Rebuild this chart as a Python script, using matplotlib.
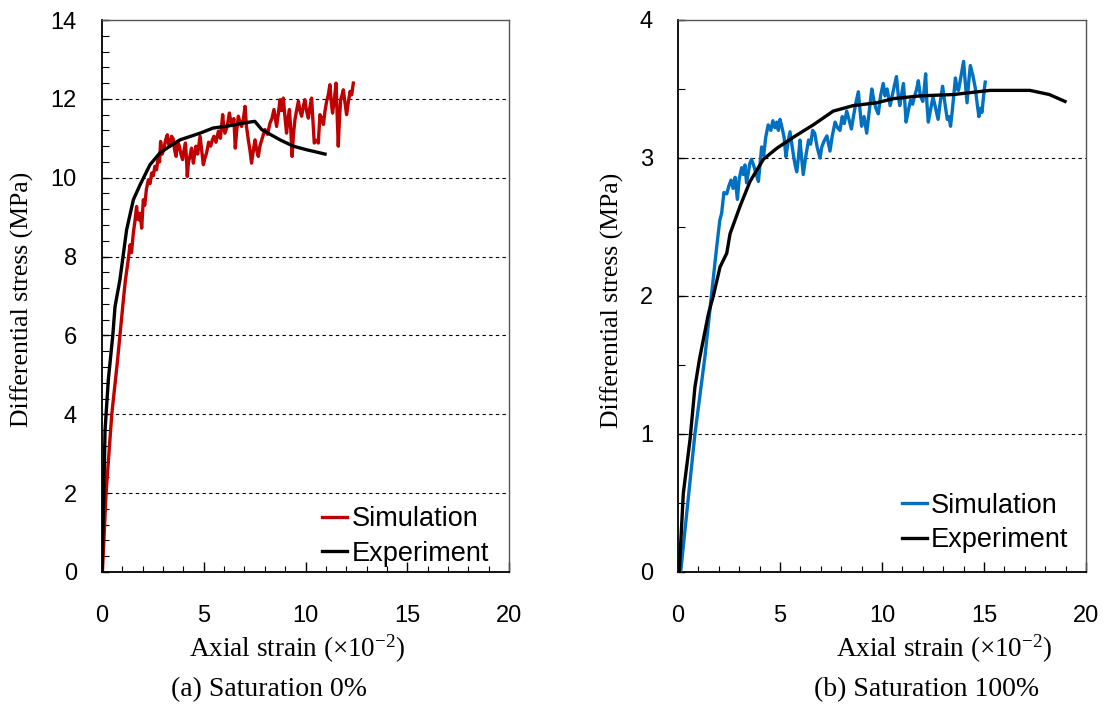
import matplotlib
matplotlib.use("Agg")
import matplotlib.pyplot as plt
from matplotlib.ticker import MultipleLocator

plt.rcParams['mathtext.default'] = 'regular'

# (a) Saturation 0% - simulation
sim0_strain = [0.02, 0.2, 0.48, 0.75, 0.88, 1.05, 1.15, 1.29, 1.38, 1.45, 1.54, 1.62, 1.7, 1.76,
               1.83, 1.88, 1.95, 2.03, 2.1, 2.18, 2.28, 2.36, 2.44, 2.52, 2.6, 2.68, 2.77, 2.83,
               2.88, 2.96, 3.05, 3.12, 3.21, 3.27, 3.34, 3.42, 3.5, 3.57, 3.64, 3.72, 3.8, 3.88,
               3.96, 4.03, 4.1, 4.15, 4.19, 4.25, 4.32, 4.4, 4.49, 4.55, 4.62, 4.7, 4.82, 4.9,
               4.98, 5.06, 5.14, 5.24, 5.34, 5.42, 5.5, 5.6, 5.72, 5.82, 5.93, 5.98, 6.04, 6.15,
               6.26, 6.34, 6.42, 6.48, 6.55, 6.62, 6.7, 6.78, 6.86, 6.95, 7.03, 7.1, 7.19, 7.27,
               7.35, 7.44, 7.52, 7.6, 7.68, 7.76, 7.85, 7.93, 8.01, 8.13, 8.26, 8.35, 8.45, 8.52,
               8.58, 8.66, 8.75, 8.83, 8.91, 8.98, 9.07, 9.14, 9.21, 9.28, 9.34, 9.41, 9.48, 9.56,
               9.65, 9.73, 9.81, 9.89, 9.97, 10.05, 10.14, 10.22, 10.3, 10.36, 10.43, 10.53, 10.63,
               10.71, 10.8, 10.88, 10.96, 11.04, 11.12, 11.2, 11.27, 11.33, 11.42, 11.5, 11.56,
               11.61, 11.67, 11.73, 11.8, 11.86, 11.94, 12.02, 12.1, 12.19, 12.27, 12.35]
sim0_stress = [0.0, 2.0, 4.0, 5.3, 6.0, 6.9, 7.4, 7.92, 8.3, 8.1, 8.6, 8.9, 9.27, 8.95,
               8.93, 9.1, 8.72, 9.44, 9.3, 9.7, 9.95, 9.85, 10.12, 10.05, 10.29, 10.2, 10.54, 10.4,
               10.92, 10.6, 10.75, 10.95, 11.09, 10.85, 10.8, 11.05, 10.98, 10.7, 10.54, 10.9, 10.8, 10.6,
               10.46, 10.7, 10.88, 10.5, 10.03, 10.4, 10.54, 10.75, 10.37, 10.6, 10.8, 10.6, 11.05, 10.7,
               10.33, 10.5, 10.63, 10.9, 10.8, 10.95, 11.05, 10.9, 11.18, 11.0, 11.6, 11.3, 11.13, 11.3,
               11.64, 11.4, 11.35, 11.5, 10.75, 11.2, 11.56, 11.4, 11.3, 11.5, 11.81, 11.3, 10.96, 10.7,
               10.37, 10.7, 10.96, 10.7, 10.54, 10.8, 10.96, 11.1, 11.22, 11.1, 11.39, 11.5, 11.73, 11.5,
               11.3, 11.6, 11.98, 11.7, 12.02, 11.6, 11.13, 11.5, 11.73, 11.2, 10.54, 11.1, 11.47, 11.7,
               11.94, 11.7, 11.56, 11.8, 11.98, 11.7, 11.51, 11.8, 12.02, 11.5, 10.88, 10.95, 10.88,
               11.6, 11.5, 11.35, 11.7, 11.94, 12.1, 12.36, 11.9, 11.64, 12.0, 12.4, 11.5,
               10.8, 11.5, 11.98, 12.1, 12.23, 11.9, 11.6, 11.9, 12.19, 12.1, 12.4]

# (a) Saturation 0% - experiment
exp0_strain = [0.0, 0.1, 0.15, 0.31, 0.53, 0.64, 0.88, 1.21, 1.54, 1.87, 2.36, 2.85, 3.34, 3.83,
               4.82, 5.46, 6.29, 7.11, 7.51, 7.85, 8.75, 9.4, 10.05, 10.96]
exp0_stress = [0.0, 2.34, 3.6, 4.87, 6.0, 6.73, 7.41, 8.68, 9.44, 9.82, 10.33, 10.63, 10.8, 10.96,
               11.13, 11.26, 11.32, 11.4, 11.43, 11.22, 10.96, 10.8, 10.71, 10.6]

# (b) Saturation 100% - simulation
sim100_strain = [0.13, 0.83, 1.32, 1.65, 1.9, 2.05, 2.14, 2.25, 2.39, 2.5, 2.6, 2.7, 2.8, 2.91,
                 3.0, 3.12, 3.2, 3.28, 3.36, 3.45, 3.52, 3.6, 3.7, 3.8, 3.94, 4.02, 4.1, 4.2,
                 4.3, 4.42, 4.55, 4.65, 4.75, 4.84, 4.92, 5.0, 5.1, 5.2, 5.29, 5.38, 5.49, 5.58,
                 5.66, 5.74, 5.82, 5.9, 5.98, 6.06, 6.14, 6.25, 6.4, 6.5, 6.6, 6.7, 6.82, 6.96,
                 7.05, 7.15, 7.3, 7.38, 7.45, 7.55, 7.7, 7.82, 7.94, 8.05, 8.15, 8.27, 8.38, 8.5,
                 8.6, 8.72, 8.84, 8.92, 9.0, 9.12, 9.25, 9.38, 9.5, 9.6, 9.7, 9.82, 9.93, 10.06,
                 10.15, 10.25, 10.4, 10.5, 10.6, 10.71, 10.8, 10.87, 10.96, 11.05, 11.12, 11.18,
                 11.3, 11.4, 11.5, 11.6, 11.7, 11.78, 11.88, 12.0, 12.07, 12.14, 12.2, 12.27,
                 12.38, 12.5, 12.6, 12.75, 12.85, 12.97, 13.08, 13.2, 13.28, 13.36, 13.45, 13.6,
                 13.68, 13.75, 13.88, 14.0, 14.08, 14.17, 14.25, 14.33, 14.45, 14.57, 14.66,
                 14.75, 14.83, 14.9, 14.98, 15.06]
sim100_stress = [0.0, 1.0, 1.56, 2.02, 2.36, 2.55, 2.6, 2.75, 2.74, 2.8, 2.84, 2.78, 2.86, 2.7,
                 2.85, 2.93, 2.88, 2.95, 2.82, 2.9, 2.96, 2.99, 2.95, 2.9, 2.83, 2.95, 3.08, 3.02,
                 3.15, 3.24, 3.2, 3.27, 3.22, 3.26, 3.2, 3.28, 3.22, 3.15, 3.01, 3.1, 3.19, 3.1,
                 3.02, 2.95, 2.9, 3.0, 3.13, 3.0, 2.88, 3.0, 3.13, 3.1, 3.2, 3.18, 3.08, 3.0,
                 3.08, 3.12, 3.16, 3.1, 3.05, 3.15, 3.26, 3.22, 3.2, 3.3, 3.25, 3.34, 3.28, 3.21,
                 3.3, 3.4, 3.48, 3.35, 3.23, 3.3, 3.18, 3.35, 3.5, 3.42, 3.36, 3.32, 3.45, 3.54,
                 3.45, 3.5, 3.38, 3.45, 3.52, 3.59, 3.45, 3.38, 3.46, 3.54, 3.4, 3.26,
                 3.35, 3.42, 3.39, 3.45, 3.5, 3.56, 3.45, 3.41, 3.5, 3.61, 3.4, 3.26,
                 3.35, 3.44, 3.38, 3.28, 3.4, 3.52, 3.4, 3.28, 3.3, 3.23, 3.35, 3.58,
                 3.5, 3.49, 3.6, 3.7, 3.55, 3.4, 3.55, 3.67, 3.6, 3.51, 3.4,
                 3.3, 3.36, 3.33, 3.45, 3.55]

# (b) Saturation 100% - experiment
exp100_strain = [0.06, 0.26, 0.59, 0.83, 1.05, 1.49, 1.73, 2.06, 2.39, 2.55, 3.04, 3.53, 4.18, 4.84,
                 5.65, 6.63, 7.61, 8.6, 9.74, 10.55, 11.86, 13.5, 15.3, 17.25, 18.2, 18.97]
exp100_stress = [0.0, 0.57, 0.96, 1.34, 1.54, 1.87, 2.0, 2.21, 2.31, 2.45, 2.65, 2.83, 2.99, 3.07,
                 3.15, 3.24, 3.34, 3.38, 3.4, 3.43, 3.45, 3.46, 3.49, 3.49, 3.46, 3.41]

W, H = 1105, 708
fig = plt.figure(figsize=(W / 100, H / 100), dpi=100)

ax1 = fig.add_axes([102 / W, 1 - 572 / H, 407 / W, 552 / H])
ax2 = fig.add_axes([678 / W, 1 - 572 / H, 408 / W, 552 / H])

serif = 'Liberation Serif'
sans = 'Liberation Sans'


def style_axes(ax, ymax, ymajor, yminor, grid_vals):
    ax.set_xlim(0, 20)
    ax.set_ylim(0, ymax)
    ax.xaxis.set_major_locator(MultipleLocator(5))
    ax.xaxis.set_minor_locator(MultipleLocator(1))
    ax.yaxis.set_major_locator(MultipleLocator(ymajor))
    ax.yaxis.set_minor_locator(MultipleLocator(yminor))
    ax.tick_params(axis='both', which='both', direction='in', labelsize=17)
    ax.tick_params(axis='x', which='major', length=7, width=1, pad=24)
    ax.tick_params(axis='x', which='minor', length=4, width=0.8)
    ax.tick_params(axis='y', which='major', length=5, width=1, pad=18)
    ax.tick_params(axis='y', which='minor', length=5, width=0.8)
    for lab in ax.get_xticklabels() + ax.get_yticklabels():
        lab.set_fontfamily(sans)
    for g in grid_vals:
        ax.axhline(g, color='black', lw=0.8, ls=(0, (3, 3)), zorder=1)
    for s in ['left', 'bottom']:
        ax.spines[s].set_color('black')
        ax.spines[s].set_linewidth(1.3)
    for s in ['top', 'right']:
        ax.spines[s].set_color('#555555')
        ax.spines[s].set_linewidth(1.0)


style_axes(ax1, 14, 2, 0.4, [2, 4, 6, 8, 10, 12])
style_axes(ax2, 4, 1, 0.5, [1, 2, 3])

ax1.plot(sim0_strain, sim0_stress, color='#C00000', lw=2.4, label='Simulation', zorder=3)
ax1.plot(exp0_strain, exp0_stress, color='black', lw=2.4, label='Experiment', zorder=4)
ax2.plot(sim100_strain, sim100_stress, color='#0070C0', lw=2.4, label='Simulation', zorder=3)
ax2.plot(exp100_strain, exp100_stress, color='black', lw=2.4, label='Experiment', zorder=4)

for ax, anchor in [(ax1, (0.514, 0.139)), (ax2, (0.522, 0.163))]:
    ax.legend(loc='upper left', bbox_to_anchor=anchor, frameon=False,
              prop={'family': sans, 'size': 19.5}, handlelength=0.93,
              handletextpad=0.15, labelspacing=0.31, borderaxespad=0)

xlabel = 'Axial strain (×10$^{-2}$)'
fig.text(297 / W, 1 - 649 / H, xlabel, ha='center', va='center', fontsize=19.5, family=serif)
fig.text(944 / W, 1 - 649 / H, xlabel, ha='center', va='center', fontsize=19.5, family=serif)
fig.text(22 / W, 1 - 299 / H, 'Differential stress (MPa)', rotation=90, ha='center',
         va='center', fontsize=18.5, family=serif)
fig.text(612 / W, 1 - 300 / H, 'Differential stress (MPa)', rotation=90, ha='center',
         va='center', fontsize=18.5, family=serif)
fig.text(269 / W, 1 - 690 / H, '(a) Saturation 0%', ha='center', va='center', fontsize=20,
         family=serif)
fig.text(927 / W, 1 - 690 / H, '(b) Saturation 100%', ha='center', va='center', fontsize=20,
         family=serif)

fig.savefig('out.png', dpi=100)
